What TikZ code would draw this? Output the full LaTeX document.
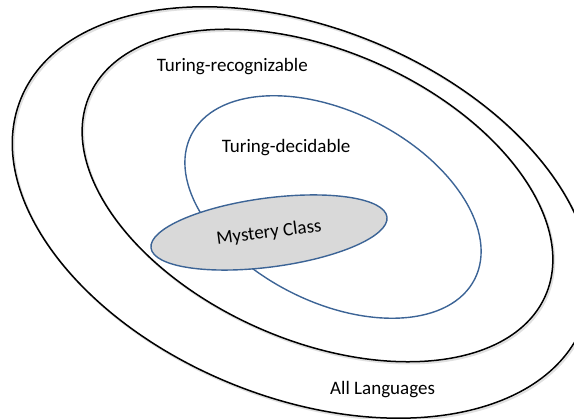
\documentclass[tikz,border=0pt]{standalone}
\usepackage{fontspec}
\setmainfont{Carlito}
\usepackage{xcolor}
\definecolor{decblue}{RGB}{60,100,150}
\definecolor{mysgray}{RGB}{217,217,217}
\tikzset{langset/.style={draw=black, line width=1.5pt},
	shadowline/.style={draw=black!12, line width=2pt},
	txt/.style={font=\fontsize{19}{22}\selectfont, inner sep=0pt}
}

\begin{document}
\begin{tikzpicture}[x=1pt,y=-1pt]
\tikzstyle{decset} = [draw=decblue, line width=1.4pt]
\tikzstyle{mystery} = [draw=decblue, line width=1.4pt, fill=mysgray]

\useasboundingbox (0,0) rectangle (574,419);
\clip (0,0) rectangle (574,419);

%Sets
\draw[shadowline, rotate around={-22:(303,214.2)}] (303,214.2) ellipse [x radius=303, y radius=185];
\draw[langset, rotate around={-22:(301.7,212.5)}] (301.7,212.5) ellipse [x radius=303, y radius=185];

\draw[shadowline, rotate around={-23.7:(318.8,197.2)}] (318.8,197.2) ellipse [x radius=249, y radius=145];
\draw[langset, rotate around={-23.7:(317.5,195.5)}] (317.5,195.5) ellipse [x radius=249, y radius=145];

\draw[decset, rotate around={-27:(333,207)}] (333,207) ellipse [x radius=159, y radius=95];

\draw[mystery, rotate around={7.5:(269,232.5)}] (269,232.5) ellipse [x radius=119, y radius=34.5];

%Labels
\node[txt, anchor=base west] (TR) at (156.7,71.7) {Turing-recognizable};
\node[txt, anchor=base west] (TD) at (221.7,152.7) {Turing-decidable};
\node[txt, rotate=7.5] (MC) at (269,233) {Mystery Class};
\node[txt, anchor=base west] (AL) at (330,395) {All Languages};
\end{tikzpicture}
\end{document}
